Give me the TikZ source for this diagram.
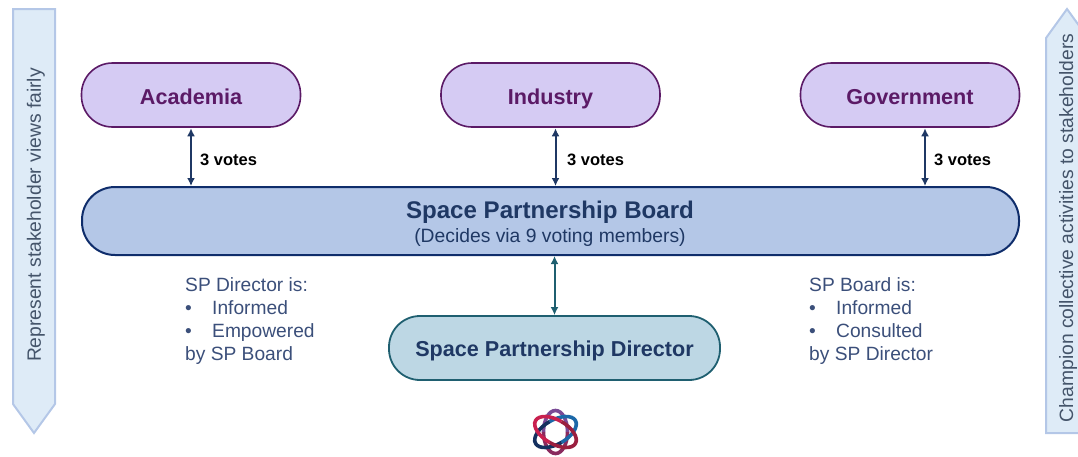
\documentclass[tikz,border=0pt]{standalone}
\usepackage{fontspec}
\setmainfont{Liberation Sans}
\definecolor{lilacfill}{HTML}{D5CBF3}
\definecolor{lilacline}{HTML}{5B1A66}
\definecolor{boardfill}{HTML}{B4C7E7}
\definecolor{boardline}{HTML}{0F2D6B}
\definecolor{navytext}{HTML}{1F3864}
\definecolor{dirfill}{HTML}{BDD7E4}
\definecolor{dirline}{HTML}{1F5F70}
\definecolor{sidefill}{HTML}{DEEBF7}
\definecolor{sideline}{HTML}{B4C7E7}
\definecolor{sidetext}{HTML}{44546A}
\definecolor{notetext}{HTML}{3B4F7A}
\definecolor{logopurple}{HTML}{7A4A96}
\definecolor{logoplum}{HTML}{8A2A5E}
\definecolor{logocrimson}{HTML}{C8204F}
\definecolor{logomaroon}{HTML}{9A1F3F}
\definecolor{logoblue}{HTML}{1C68A8}
\definecolor{logonavy}{HTML}{14305F}
\usetikzlibrary{arrows.meta}
\tikzset{
  x=1pt,y=-1pt,
  pill/.style={draw=lilacline,fill=lilacfill,line width=1.6pt,rounded corners=31pt,minimum width=219pt,minimum height=64pt,text=lilacline,font=\fontsize{21.6}{24}\selectfont\bfseries,inner sep=0pt,text height=18pt,text depth=0pt},
  boardbox/.style={draw=boardline,fill=boardfill,line width=2pt,rounded corners=33pt,minimum width=937pt,minimum height=68pt,inner sep=0pt},
  dirbox/.style={draw=dirline,fill=dirfill,line width=1.8pt,rounded corners=31pt,minimum width=331pt,minimum height=64pt,text=navytext,font=\fontsize{21.6}{24}\selectfont\bfseries,inner sep=0pt,text height=16pt,text depth=0pt},
  link/.style={draw=navytext,line width=2pt,{Latex[length=8pt,width=8pt]}-{Latex[length=8pt,width=8pt]},shorten <=0.5pt},
  dirlink/.style={draw=dirline,line width=2pt,{Latex[length=8pt,width=8pt]}-{Latex[length=8pt,width=8pt]}},
  votes/.style={font=\fontsize{16.5}{18}\selectfont\bfseries,text=black,inner sep=0pt,anchor=west},
  note/.style={font=\fontsize{19.2}{23}\selectfont,text=notetext,align=left,inner sep=0pt,anchor=north west},
  side/.style={draw=sideline,fill=sidefill,line width=2pt},
  sidelabel/.style={font=\fontsize{19.3}{22}\selectfont,text=sidetext,rotate=90,inner sep=0pt},
  orbit/.style={line width=3.6pt}
}
\newcommand{\bul}[1]{\makebox[27pt][l]{•}#1}
\begin{document}
\begin{tikzpicture}
\useasboundingbox (0,0) rectangle (1078,456);
\draw[side] (13,9) -- (55,9) -- (55,404) -- (34,433) -- (13,404) -- cycle;
\draw[side] (1046,433) -- (1046,38) -- (1067,9) -- (1088,38) -- (1088,433) -- cycle;
\node[sidelabel] (leftlabel) at (36,215) {Represent stakeholder views fairly};
\node[sidelabel] (rightlabel) at (1068,228) {Champion collective activities to stakeholders};

\node[pill] (academia) at (191,95) {Academia};
\node[pill] (industry) at (550.5,95) {Industry};
\node[pill] (government) at (910,95) {Government};
\node[boardbox,align=center] (board) at (550.5,221) {};
\node[font=\fontsize{24.1}{26}\selectfont\bfseries,text=navytext,inner sep=0pt] (boardtitle) at (550,212.5) {Space Partnership Board};
\node[font=\fontsize{19.3}{22}\selectfont,text=navytext,inner sep=0pt] (boardsub) at (550,238) {(Decides via 9 voting members)};
\node[dirbox] (director) at (554.5,348) {Space Partnership Director};

\draw[link] (academia.south) -- (academia.south |- board.north);
\draw[link] ([xshift=5pt]industry.south) -- ([xshift=5pt]industry.south |- board.north);
\draw[link] ([xshift=15pt]government.south) -- ([xshift=15pt]government.south |- board.north);
\draw[dirlink] (director.north) -- (director.north |- board.south);

\node[votes] (v1) at (200,160) {3 votes};
\node[votes] (v2) at (567,160) {3 votes};
\node[votes] (v3) at (934,160) {3 votes};

\node[note] (leftnote) at (185,277) {SP Director is:\\\bul{Informed}\\\bul{Empowered}\\by SP Board};
\node[note] (rightnote) at (809,277) {SP Board is:\\\bul{Informed}\\\bul{Consulted}\\by SP Director};

\begin{scope}[shift={(555.5,432)}]
 \begin{scope}[rotate=0]
  \draw[orbit,draw=logopurple] (0:12 and 21.5) arc [start angle=0,end angle=-180,x radius=12,y radius=21.5];
  \draw[orbit,draw=logoplum] (180:12 and 21.5) arc [start angle=180,end angle=0,x radius=12,y radius=21.5];
 \end{scope}
 \begin{scope}[rotate=-60]
  \draw[orbit,draw=logoblue] (0:12 and 23) arc [start angle=0,end angle=-180,x radius=12,y radius=23];
  \draw[orbit,draw=logonavy] (180:12 and 23) arc [start angle=180,end angle=0,x radius=12,y radius=23];
 \end{scope}
 \begin{scope}[rotate=60]
  \draw[orbit,draw=logocrimson] (0:12 and 23) arc [start angle=0,end angle=-180,x radius=12,y radius=23];
  \draw[orbit,draw=logomaroon] (180:12 and 23) arc [start angle=180,end angle=0,x radius=12,y radius=23];
 \end{scope}
\end{scope}
\end{tikzpicture}
\end{document}
